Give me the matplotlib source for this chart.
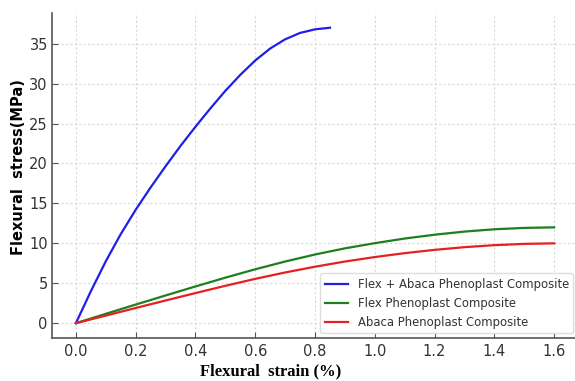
import matplotlib
matplotlib.use("Agg")
import matplotlib.pyplot as plt

# strain (%) / stress (MPa)
strain_flex_abaca = [0.0, 0.05, 0.1, 0.15, 0.2, 0.25, 0.3, 0.35, 0.4, 0.45, 0.5,
                     0.55, 0.6, 0.65, 0.7, 0.75, 0.8, 0.85]
stress_flex_abaca = [0.0, 4.0, 7.75, 11.15, 14.2, 17.0, 19.65, 22.2, 24.6, 26.9, 29.1,
                     31.1, 32.9, 34.4, 35.55, 36.35, 36.8, 37.0]

strain_single = [0.0, 0.1, 0.2, 0.3, 0.4, 0.5, 0.6, 0.7, 0.8, 0.9, 1.0,
                 1.1, 1.2, 1.3, 1.4, 1.5, 1.6]
stress_flex = [0.0, 1.17, 2.33, 3.47, 4.6, 5.7, 6.75, 7.72, 8.6, 9.37, 10.02,
               10.6, 11.08, 11.47, 11.76, 11.93, 12.0]
stress_abaca = [0.0, 0.95, 1.9, 2.84, 3.77, 4.68, 5.55, 6.35, 7.07, 7.72, 8.28,
                8.77, 9.18, 9.52, 9.77, 9.93, 10.0]

labels = ["Flex + Abaca Phenoplast Composite", "Flex Phenoplast Composite",
          "Abaca Phenoplast Composite"]

fig = plt.figure(figsize=(5.75, 3.81), dpi=100)
ax = fig.add_axes([0.0904, 0.113, 0.915, 0.853])

ax.plot(strain_flex_abaca, stress_flex_abaca, color="#1f1fe6", lw=1.6, label=labels[0])
ax.plot(strain_single, stress_flex, color="#1e7f1e", lw=1.6, label=labels[1])
ax.plot(strain_single, stress_abaca, color="#e62020", lw=1.6, label=labels[2])

ax.set_xticks([0.0, 0.2, 0.4, 0.6, 0.8, 1.0, 1.2, 1.4, 1.6])
ax.set_yticks([0, 5, 10, 15, 20, 25, 30, 35])
ax.grid(True, color="#d8d8d8", linestyle=(0, (2, 2)), linewidth=0.8)
ax.set_axisbelow(True)
ax.tick_params(direction="in", length=4, colors="#555555", labelcolor="#333333",
               labelsize=10.5)
ax.tick_params(axis="x", pad=4)
ax.tick_params(axis="y", pad=3)
for s in ["top", "right"]:
    ax.spines[s].set_visible(False)
for s in ["left", "bottom"]:
    ax.spines[s].set_color("#555555")
    ax.spines[s].set_linewidth(1.2)

ax.set_xlabel("Flexural  strain (%)", fontfamily="Liberation Serif", fontweight="bold",
              fontsize=12)
ax.xaxis.set_label_coords(0.416, -0.078)
ax.set_ylabel("Flexural  stress(MPa)", fontweight="bold", fontsize=10.5)
ax.yaxis.set_label_coords(-0.05, 0.526)

leg = ax.legend(loc="lower right", fontsize=8.4, frameon=True, fancybox=True,
                framealpha=1, edgecolor="#dddddd", borderaxespad=0.4)
for t in leg.get_texts():
    t.set_color("#333333")

fig.savefig("out.png", dpi=100)
